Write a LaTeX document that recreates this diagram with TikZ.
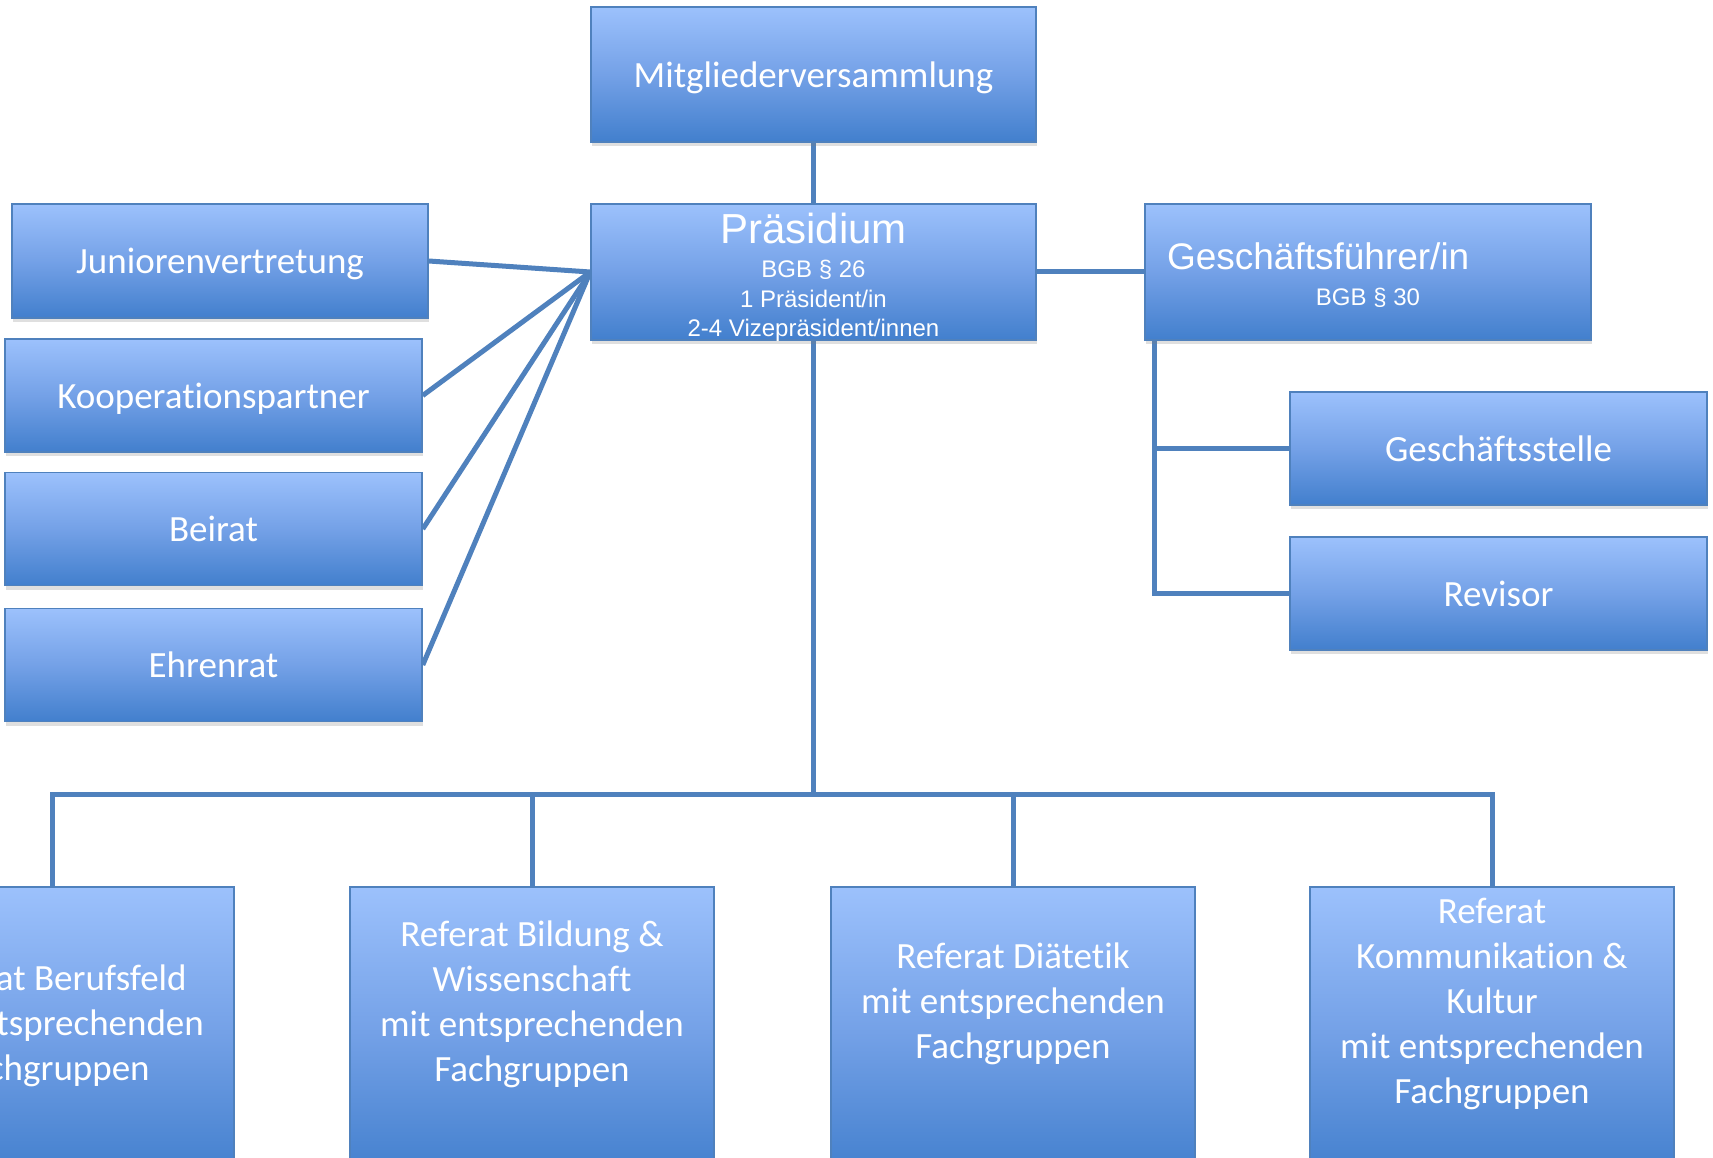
\documentclass[tikz,border=0pt]{standalone}
\usepackage{fontspec}
\setmainfont{Carlito}[Ligatures=NoCommon]
\newfontfamily\arialfont{Liberation Sans}
\usetikzlibrary{calc,shadows,backgrounds}
\definecolor{boxtop}{RGB}{156,193,252}
\definecolor{boxmid}{RGB}{116,161,231}
\definecolor{boxbot}{RGB}{66,127,205}
\definecolor{boxline}{RGB}{79,129,189}
\definecolor{linkcol}{RGB}{79,129,189}
\tikzset{
  orgbox/.style={draw=boxline, line width=1.5pt, top color=boxtop, bottom color=boxbot, middle color=boxmid,
    text=white, font=\fontsize{37}{45}\selectfont, align=center, inner sep=0pt,
    drop shadow={shadow xshift=1pt, shadow yshift=-4pt, opacity=0.25}},
  onebox/.style={orgbox, text depth=0pt},
  sidebox/.style={onebox, minimum width=417pt, minimum height=113pt},
  refbox/.style={orgbox, minimum width=364pt, minimum height=290pt, anchor=north},
  reftext/.style={text=white, font=\fontsize{37}{45}\selectfont, align=center, inner sep=0pt},
  link/.style={draw=linkcol, line width=5pt}
}

\begin{document}
\begin{tikzpicture}[x=1pt,y=-1pt]
\clip (0,0) rectangle (1713,1158);
% top of the tree
\node[onebox, minimum width=445pt, minimum height=135pt] (mv) at (813.5,74.5) {Mitgliederversammlung};
\node[orgbox, minimum width=445pt, minimum height=136pt] (praes) at (813.5,272)
  {\raisebox{-5.5pt}[\height][\depth]{\parbox{440pt}{\centering\arialfont\fontsize{24}{29.5}\selectfont
   {\fontsize{42}{42}\selectfont Präsidium\par}\vspace{4.5pt}BGB § 26\\1 Präsident/in\\2-4 Vizepräsident/innen}}};
\node[orgbox, minimum width=446pt, minimum height=136pt] (gf) at (1368,272)
  {\raisebox{-3.5pt}[\height][\depth]{\parbox{402pt}{\arialfont\fontsize{24}{36}\selectfont
   {\fontsize{37}{37}\selectfont Geschäftsführer/in\par}\centering BGB § 30}}};
% left column
\node[onebox, minimum width=416pt, minimum height=114pt] (junioren) at (220,261) {Juniorenvertretung};
\node[sidebox] (koop) at (213.5,395.5) {Kooperationspartner};
\node[sidebox] (beirat) at (213.5,529) {Beirat};
\node[sidebox] (ehrenrat) at (213.5,665) {Ehrenrat};
% right column
\node[sidebox] (gs) at (1498.5,448.5) {Geschäftsstelle};
\node[sidebox] (revisor) at (1498.5,593.5) {Revisor};
% referate
\node[refbox] (ref1) at (52,886) {};
\node[refbox] (ref2) at (532,886) {};
\node[refbox] (ref3) at (1013,886) {};
\node[refbox] (ref4) at (1492,886) {};
\node[reftext] (ref1text) at (52,1026) {Referat Berufsfeld\\mit entsprechenden\\Fachgruppen};
\node[reftext] (ref2text) at (532,1004) {Referat Bildung \&\\Wissenschaft\\mit entsprechenden\\Fachgruppen};
\node[reftext] (ref3text) at (1013,1004) {Referat Diätetik\\mit entsprechenden\\Fachgruppen};
\node[reftext] (ref4text) at (1492,1004) {Referat\\Kommunikation \&\\Kultur\\mit entsprechenden\\Fachgruppen};
\coordinate (bus) at (813.5,794);
\coordinate (gfleg) at ($(gf.south west)+(10,0)$);
\begin{scope}[on background layer]
\fill[white] (0,0) rectangle (1713,1158);
\draw[link] (mv.south) -- (praes.north);
\draw[link] (praes.east) -- (gf.west);
\foreach \n in {junioren,koop,beirat,ehrenrat}
  \draw[link] (praes.west) -- (\n.east);
\draw[link] (gfleg) |- (revisor.west);
\draw[link] (gfleg |- gs.west) -- (gs.west);
\draw[link] (praes.south) -- (bus);
\draw[link] (ref1.north) |- (bus) -| (ref4.north);
\foreach \n in {ref2,ref3}
  \draw[link] (\n.north) -- (\n.north |- bus);
\end{scope}
\end{tikzpicture}
\end{document}
